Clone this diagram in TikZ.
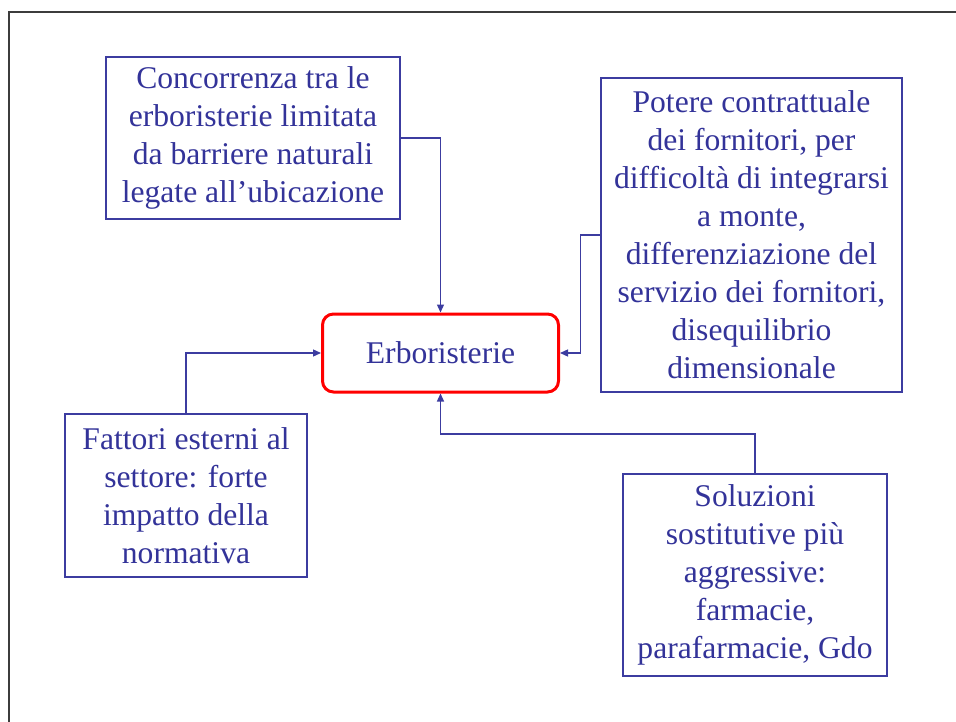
\documentclass[tikz,border=0pt]{standalone}
\usepackage{fontspec}
\setmainfont{Liberation Serif}
\usetikzlibrary{arrows.meta}
\definecolor{txtblue}{RGB}{51,51,153}
\definecolor{lineblue}{RGB}{60,60,160}
\definecolor{framegray}{RGB}{60,60,60}
\begin{document}
\begin{tikzpicture}[x=1pt,y=-1pt,
  txt/.style={font=\fontsize{31.6}{38}\selectfont, text=txtblue, align=center},
  sidebox/.style={draw=lineblue, line width=1.2pt, inner sep=0pt, txt},
  conn/.style={draw=lineblue, line width=1.3pt, -{Triangle[length=8pt,width=7pt]}}
]
\useasboundingbox (0,0) rectangle (956,722);
\fill[white] (0,0) rectangle (956,722);
\draw[framegray, line width=2.2pt] (9,730) -- (9,12) -- (965,12);

\node[sidebox, minimum width=294pt, minimum height=162pt] (b1) at (253,138)
  {Concorrenza tra le\\erboristerie limitata\\da barriere naturali\\legate all’ubicazione};
\node[sidebox, minimum width=301pt, minimum height=314pt] (b2) at (751.5,235)
  {Potere contrattuale\\dei fornitori, per\\difficoltà di integrarsi\\a monte,\\differenziazione del\\servizio dei fornitori,\\disequilibrio\\dimensionale};
\node[sidebox, minimum width=242pt, minimum height=163pt] (b3) at (186,495.5)
  {Fattori esterni al\\settore: forte\\impatto della\\normativa};
\node[sidebox, minimum width=264pt, minimum height=202pt] (b4) at (755,575)
  {Soluzioni\\sostitutive più\\aggressive:\\farmacie,\\parafarmacie, Gdo};

\node[draw=red, line width=3pt, rounded corners=11pt, minimum width=236pt, minimum height=78pt, txt] (c) at (440.5,353) {Erboristerie};

\draw[conn] (b1.east) -| (c.north);
\draw[conn] (b2.west) -- (580.5,235) |- (c.east);
\draw[conn] (b3.north) |- (c.west);
\draw[conn] (b4.north) |- (440.5,434) -- (c.south);
\end{tikzpicture}
\end{document}
